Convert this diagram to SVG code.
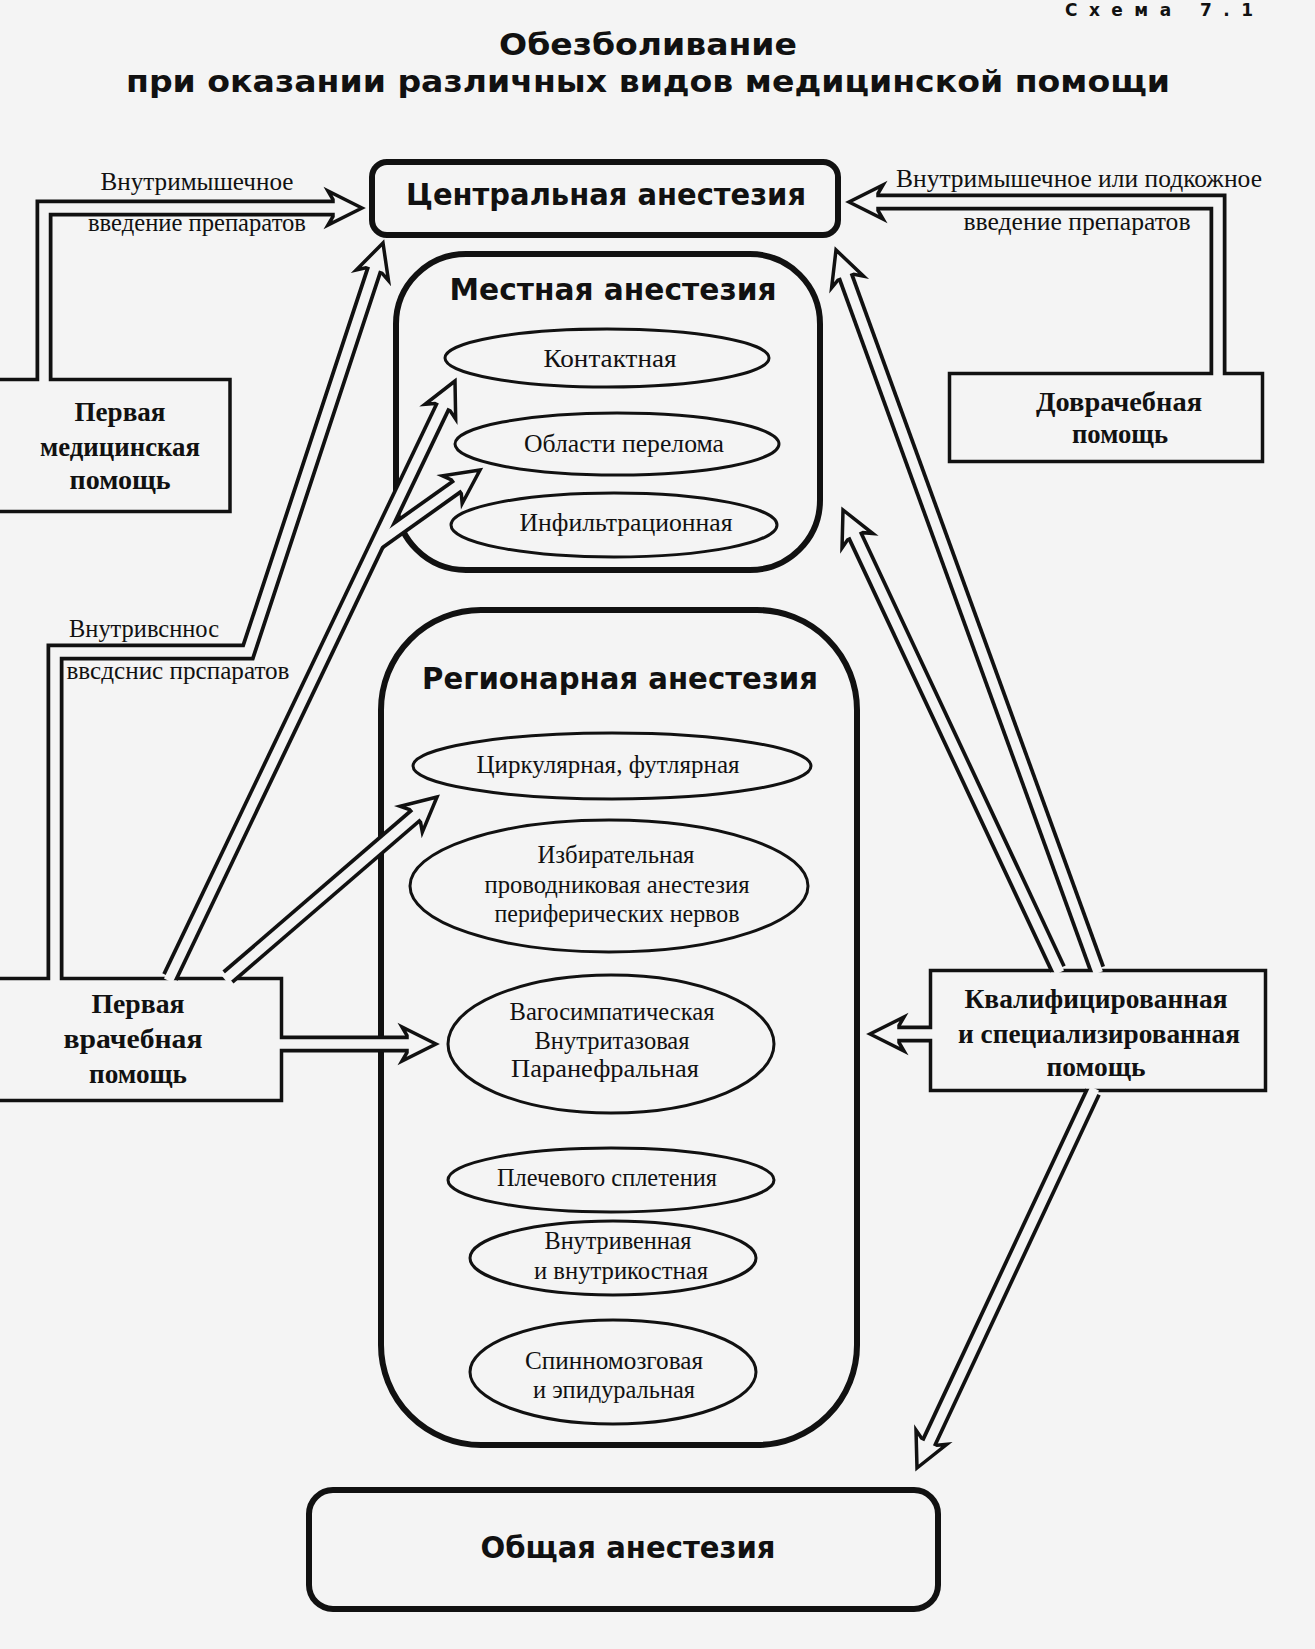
<svg xmlns="http://www.w3.org/2000/svg" width="1315" height="1649" viewBox="0 0 1315 1649">
<defs>
<style>
.bg{fill:#f4f4f4}
.ttl{font-family:"DejaVu Sans","Liberation Sans",sans-serif;font-weight:bold;fill:#111}
.ser{font-family:"Liberation Serif","Times New Roman",serif;font-size:26px;fill:#111}
.bs{font-family:"Liberation Serif","Times New Roman",serif;font-size:28px;font-weight:bold;fill:#111}
.rbox{fill:#f4f4f4;stroke:#111;stroke-width:6}
.box{fill:#f4f4f4;stroke:#111;stroke-width:3.5}
.ell{fill:#f4f4f4;stroke:#111;stroke-width:3}
.sk{fill:none;stroke:#111;stroke-width:17;stroke-linejoin:miter;stroke-linecap:butt}
.sw{fill:none;stroke:#f4f4f4;stroke-width:9.5;stroke-linejoin:miter;stroke-linecap:butt}
.hd{fill:#f4f4f4;stroke:#111;stroke-width:3.5;stroke-linejoin:miter}
</style>
<polygon id="hd" class="hd" points="0,0 -34,-17 -29,-8.5 -29,8.5 -34,17"/>
</defs>
<rect class="bg" x="0" y="0" width="1315" height="1649"/>

<g id="title">
<text class="ttl" x="1065" y="16" font-size="17" textLength="188" lengthAdjust="spacing">Схема 7.1</text>
<text class="ttl" x="648" y="55" font-size="31" text-anchor="middle" textLength="298" lengthAdjust="spacingAndGlyphs">Обезболивание</text>
<text class="ttl" x="648" y="92" font-size="31" text-anchor="middle" textLength="1044" lengthAdjust="spacingAndGlyphs">при оказании различных видов медицинской помощи</text>
</g>

<g id="central">
<rect class="rbox" x="372" y="162" width="466" height="73" rx="15"/>
<text class="ttl" x="606" y="205" font-size="31" text-anchor="middle" textLength="400" lengthAdjust="spacingAndGlyphs">Центральная анестезия</text>
</g>

<g id="local">
<rect class="rbox" x="396" y="254" width="424" height="316" rx="70"/>
<text class="ttl" x="613" y="300" font-size="31" text-anchor="middle" textLength="327" lengthAdjust="spacingAndGlyphs">Местная анестезия</text>
</g>
<g id="local-contact">
<ellipse class="ell" cx="607" cy="358" rx="162" ry="29"/>
<text class="ser" x="610" y="367" text-anchor="middle" textLength="133" lengthAdjust="spacingAndGlyphs">Контактная</text>
</g>
<g id="local-fracture">
<ellipse class="ell" cx="617" cy="444" rx="162" ry="31"/>
<text class="ser" x="624" y="452" text-anchor="middle" textLength="200" lengthAdjust="spacingAndGlyphs">Области перелома</text>
</g>
<g id="local-infiltr">
<ellipse class="ell" cx="614" cy="525" rx="163" ry="32"/>
<text class="ser" x="626" y="531" text-anchor="middle" textLength="213" lengthAdjust="spacingAndGlyphs">Инфильтрационная</text>
</g>

<g id="regional">
<rect class="rbox" x="381" y="610" width="476" height="835" rx="100"/>
<text class="ttl" x="620" y="689" font-size="31" text-anchor="middle" textLength="396" lengthAdjust="spacingAndGlyphs">Регионарная анестезия</text>
</g>
<g id="reg-circ">
<ellipse class="ell" cx="612" cy="766" rx="199" ry="33"/>
<text class="ser" x="608" y="773" text-anchor="middle" textLength="263" lengthAdjust="spacingAndGlyphs">Циркулярная, футлярная</text>
</g>
<g id="reg-select">
<ellipse class="ell" cx="609" cy="886" rx="199" ry="66"/>
<text class="ser" x="616" y="863" text-anchor="middle" textLength="157" lengthAdjust="spacingAndGlyphs">Избирательная</text>
<text class="ser" x="617" y="893" text-anchor="middle" textLength="265" lengthAdjust="spacingAndGlyphs">проводниковая анестезия</text>
<text class="ser" x="617" y="922" text-anchor="middle" textLength="245" lengthAdjust="spacingAndGlyphs">периферических нервов</text>
</g>
<g id="reg-vago">
<ellipse class="ell" cx="611" cy="1044" rx="163" ry="69"/>
<text class="ser" x="612" y="1020" text-anchor="middle" textLength="205" lengthAdjust="spacingAndGlyphs">Вагосимпатическая</text>
<text class="ser" x="612" y="1049" text-anchor="middle" textLength="155" lengthAdjust="spacingAndGlyphs">Внутритазовая</text>
<text class="ser" x="605" y="1077" text-anchor="middle" textLength="188" lengthAdjust="spacingAndGlyphs">Паранефральная</text>
</g>
<g id="reg-plexus">
<ellipse class="ell" cx="611" cy="1180" rx="163" ry="32"/>
<text class="ser" x="607" y="1186" text-anchor="middle" textLength="220" lengthAdjust="spacingAndGlyphs">Плечевого сплетения</text>
</g>
<g id="reg-iv">
<ellipse class="ell" cx="613" cy="1258" rx="143" ry="37"/>
<text class="ser" x="618" y="1249" text-anchor="middle" textLength="147" lengthAdjust="spacingAndGlyphs">Внутривенная</text>
<text class="ser" x="621" y="1279" text-anchor="middle" textLength="174" lengthAdjust="spacingAndGlyphs">и внутрикостная</text>
</g>
<g id="reg-spinal">
<ellipse class="ell" cx="613" cy="1372" rx="143" ry="52"/>
<text class="ser" x="614" y="1369" text-anchor="middle" textLength="178" lengthAdjust="spacingAndGlyphs">Спинномозговая</text>
<text class="ser" x="614" y="1398" text-anchor="middle" textLength="162" lengthAdjust="spacingAndGlyphs">и эпидуральная</text>
</g>

<g id="general">
<rect class="rbox" x="309" y="1490" width="629" height="119" rx="24"/>
<text class="ttl" x="628" y="1558" font-size="31" text-anchor="middle" textLength="295" lengthAdjust="spacingAndGlyphs">Общая анестезия</text>
</g>

<g id="first-medical">
<rect class="box" x="-3" y="379.5" width="233" height="132"/>
<text class="bs" x="120" y="421" text-anchor="middle" textLength="91" lengthAdjust="spacingAndGlyphs">Первая</text>
<text class="bs" x="120" y="456" text-anchor="middle" textLength="160" lengthAdjust="spacingAndGlyphs">медицинская</text>
<text class="bs" x="120" y="489" text-anchor="middle" textLength="101" lengthAdjust="spacingAndGlyphs">помощь</text>
</g>
<g id="prephysician">
<rect class="box" x="949.5" y="373.5" width="313" height="88"/>
<text class="bs" x="1119" y="411" text-anchor="middle" textLength="166" lengthAdjust="spacingAndGlyphs">Доврачебная</text>
<text class="bs" x="1120" y="443" text-anchor="middle" textLength="96" lengthAdjust="spacingAndGlyphs">помощь</text>
</g>
<g id="first-physician">
<rect class="box" x="-3" y="978.5" width="284.5" height="122"/>
<text class="bs" x="138" y="1013" text-anchor="middle" textLength="93" lengthAdjust="spacingAndGlyphs">Первая</text>
<text class="bs" x="133" y="1048" text-anchor="middle" textLength="139" lengthAdjust="spacingAndGlyphs">врачебная</text>
<text class="bs" x="138" y="1083" text-anchor="middle" textLength="98" lengthAdjust="spacingAndGlyphs">помощь</text>
</g>
<g id="qualified">
<rect class="box" x="930.5" y="970.5" width="335" height="120"/>
<text class="bs" x="1096" y="1008" text-anchor="middle" textLength="263" lengthAdjust="spacingAndGlyphs">Квалифицированная</text>
<text class="bs" x="1099" y="1043" text-anchor="middle" textLength="282" lengthAdjust="spacingAndGlyphs">и специализированная</text>
<text class="bs" x="1096" y="1076" text-anchor="middle" textLength="99" lengthAdjust="spacingAndGlyphs">помощь</text>
</g>

<g id="connectors">
<path class="sk" d="M44,378 V208 H333"/>
<path class="sk" d="M1218,372 V202 H878"/>
<path class="sk" d="M55,977 V652 H248 L373.9,270.5"/>
<path class="sk" d="M170,977 L442.5,407.2"/>
<path class="sk" d="M377.4,543.1 L456.4,486.8"/>
<path class="sk" d="M228,977 L415,815.9"/>
<path class="sk" d="M283,1044 H407"/>
<path class="sk" d="M929,1034 H899"/>
<path class="sk" d="M1097,969 L845.9,277.3"/>
<path class="sk" d="M1058,969 L855.3,536.3"/>
<path class="sk" d="M1093,1092 L929.3,1441.7"/>
<use href="#hd" transform="translate(362,208)"/>
<use href="#hd" transform="translate(849,202) rotate(180)"/>
<use href="#hd" transform="translate(383,243) rotate(-71.73)"/>
<use href="#hd" transform="translate(455,381) rotate(-64.45)"/>
<use href="#hd" transform="translate(480,470) rotate(-35.47)"/>
<use href="#hd" transform="translate(437,797) rotate(-40.74)"/>
<use href="#hd" transform="translate(436,1044)"/>
<use href="#hd" transform="translate(870,1034) rotate(180)"/>
<use href="#hd" transform="translate(836,250) rotate(-109.95)"/>
<use href="#hd" transform="translate(843,510) rotate(-115.1)"/>
<use href="#hd" transform="translate(917,1468) rotate(115.08)"/>
<path class="sw" d="M44,382 V208 H337"/>
<path class="sw" d="M1218,376 V202 H874"/>
<path class="sw" d="M55,981 V652 H248 L375.2,266.7"/>
<path class="sw" d="M168.3,980.6 L444.2,403.4"/>
<path class="sw" d="M377.4,543.1 L459.6,484.5"/>
<path class="sw" d="M225,979.6 L418.1,813.3"/>
<path class="sw" d="M279,1044 H411"/>
<path class="sw" d="M933,1034 H895"/>
<path class="sw" d="M1098.4,972.8 L844.5,273.5"/>
<path class="sw" d="M1059.7,972.6 L853.6,532.6"/>
<path class="sw" d="M1094.7,1088.4 L927.6,1445.4"/>
<text class="ser" x="197" y="190" text-anchor="middle" textLength="193" lengthAdjust="spacingAndGlyphs">Внутримышечное</text>
<text class="ser" x="197" y="231" text-anchor="middle" textLength="218" lengthAdjust="spacingAndGlyphs">введение препаратов</text>
<text class="ser" x="1079" y="187" text-anchor="middle" textLength="366" lengthAdjust="spacingAndGlyphs">Внутримышечное или подкожное</text>
<text class="ser" x="1077" y="230" text-anchor="middle" textLength="227" lengthAdjust="spacingAndGlyphs">введение препаратов</text>
<text class="ser" x="144" y="637" text-anchor="middle" textLength="150" lengthAdjust="spacingAndGlyphs">Внутривсннос</text>
<text class="ser" x="178" y="679" text-anchor="middle" textLength="223" lengthAdjust="spacingAndGlyphs">ввсдснис прспаратов</text>
</g>
</svg>
